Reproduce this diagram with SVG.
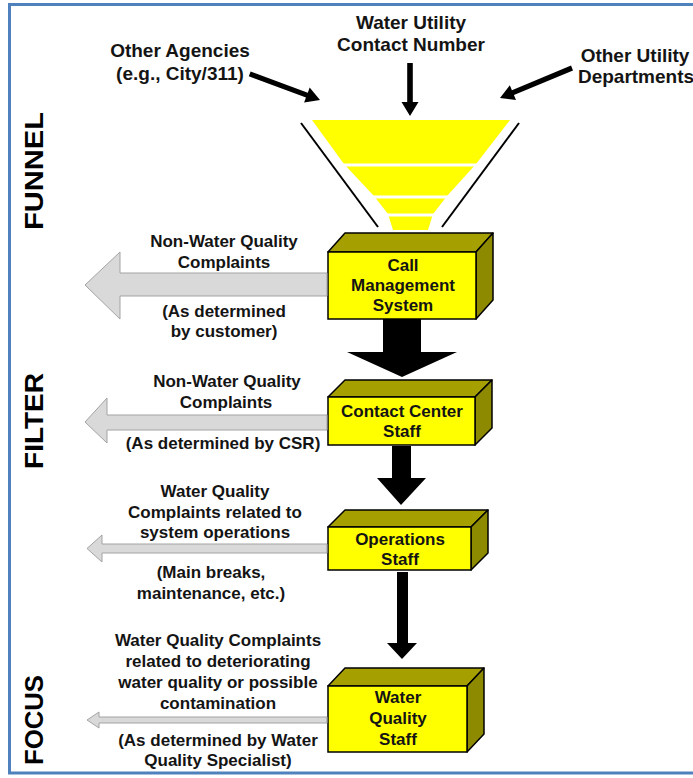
<svg xmlns="http://www.w3.org/2000/svg" width="693" height="778" viewBox="0 0 693 778">
<style>
  text { font-family: "Liberation Sans", Arial, sans-serif; font-weight: bold; fill: #141414; }
  .lbl { font-size: 17px; text-anchor: middle; }
  .top { font-size: 19px; text-anchor: middle; }
  .side { font-size: 26px; text-anchor: middle; fill: #000; }
  .front { fill: #ffff00; stroke: #000; stroke-width: 1.5; }
  .topf { fill: #a59f00; stroke: #000; stroke-width: 1.5; stroke-linejoin: round; }
  .sidef { fill: #8e8a00; stroke: #000; stroke-width: 1.5; stroke-linejoin: round; }
  .blk { fill: #000; }
  .gray { fill: #d9d9d9; stroke: #a3a3a3; stroke-width: 1; }
</style>
<rect x="0" y="0" width="693" height="778" fill="#ffffff"/>
<rect x="9.5" y="4.5" width="720" height="768.5" fill="none" stroke="#4f81bd" stroke-width="3"/>

<g id="section-labels">
  <text class="side" transform="translate(43,171) rotate(-90)" textLength="118" lengthAdjust="spacingAndGlyphs">FUNNEL</text>
  <text class="side" transform="translate(43,421) rotate(-90)" textLength="96" lengthAdjust="spacingAndGlyphs">FILTER</text>
  <text class="side" transform="translate(43,720) rotate(-90)" textLength="90" lengthAdjust="spacingAndGlyphs">FOCUS</text>
</g>

<g id="funnel">
  <path d="M312,120 L510,120 L476,164 L447,196 L433,214 L428,230 L393,230 L388,214 L374,196 L344,164 Z" fill="#ffff00"/>
  <g stroke="#ffffff" stroke-width="3">
    <line x1="300" y1="165" x2="520" y2="165"/>
    <line x1="300" y1="197" x2="520" y2="197"/>
    <line x1="300" y1="215" x2="520" y2="215"/>
  </g>
  <g stroke="#000" stroke-width="2">
    <line x1="301" y1="123" x2="378" y2="227"/>
    <line x1="519" y1="123" x2="442" y2="227"/>
  </g>
</g>

<g id="source-other-agencies">
  <text class="top" x="180" y="57">Other Agencies</text>
  <text class="top" x="180" y="80">(e.g., City/311)</text>
</g>
<g id="source-water-utility">
  <text class="top" x="411" y="29">Water Utility</text>
  <text class="top" x="411" y="51">Contact Number</text>
</g>
<g id="source-other-departments">
  <text class="top" x="635" y="62">Other Utility</text>
  <text class="top" x="636" y="83">Departments</text>
</g>

<g id="node-call-management">
  <polygon class="topf" points="328,252 476,252 493,233 345,233"/>
  <polygon class="sidef" points="476,252 493,233 493,300 476,319"/>
  <rect class="front" x="328" y="252" width="148" height="67"/>
  <text class="lbl" x="403" y="271">Call</text>
  <text class="lbl" x="403" y="291">Management</text>
  <text class="lbl" x="403" y="311">System</text>
</g>

<g id="node-contact-center">
  <polygon class="topf" points="328,397 475,397 492,380 345,380"/>
  <polygon class="sidef" points="475,397 492,380 492,428 475,445"/>
  <rect class="front" x="328" y="397" width="147" height="48"/>
  <text class="lbl" x="402" y="417">Contact Center</text>
  <text class="lbl" x="402" y="437">Staff</text>
</g>

<g id="node-operations">
  <polygon class="topf" points="328,527 471,527 488,510 345,510"/>
  <polygon class="sidef" points="471,527 488,510 488,553 471,570"/>
  <rect class="front" x="328" y="527" width="143" height="43"/>
  <text class="lbl" x="400" y="545">Operations</text>
  <text class="lbl" x="400" y="565">Staff</text>
</g>

<g id="node-water-quality">
  <polygon class="topf" points="328,686 467,686 484,668 345,668"/>
  <polygon class="sidef" points="467,686 484,668 484,734 467,752"/>
  <rect class="front" x="328" y="686" width="139" height="66"/>
  <text class="lbl" x="398" y="703">Water</text>
  <text class="lbl" x="398" y="724">Quality</text>
  <text class="lbl" x="398" y="745">Staff</text>
</g>

<g id="labels">
  <text class="lbl" x="224" y="247">Non-Water Quality</text>
  <text class="lbl" x="224" y="268">Complaints</text>
  <text class="lbl" x="224" y="317">(As determined</text>
  <text class="lbl" x="224" y="337">by customer)</text>

  <text class="lbl" x="227" y="387">Non-Water Quality</text>
  <text class="lbl" x="226" y="408">Complaints</text>
  <text class="lbl" x="223" y="449">(As determined by CSR)</text>

  <text class="lbl" x="215" y="497">Water Quality</text>
  <text class="lbl" x="215" y="518">Complaints related to</text>
  <text class="lbl" x="215" y="538">system operations</text>
  <text class="lbl" x="211" y="578">(Main breaks,</text>
  <text class="lbl" x="211" y="599">maintenance, etc.)</text>

  <text class="lbl" x="218" y="646">Water Quality Complaints</text>
  <text class="lbl" x="218" y="667">related to deteriorating</text>
  <text class="lbl" x="218" y="688">water quality or possible</text>
  <text class="lbl" x="218" y="709">contamination</text>
  <text class="lbl" x="218" y="746">(As determined by Water</text>
  <text class="lbl" x="218" y="766">Quality Specialist)</text>
</g>

<g id="connectors">
  <!-- incoming arrows -->
  <polygon class="blk" transform="translate(320,100) rotate(20.4)" points="-75,-2.6 -14,-2.6 -14,-8 0,0 -14,8 -14,2.6 -75,2.6"/>
  <polygon class="blk" transform="translate(410,116) rotate(90)" points="-53,-2.8 -14,-2.8 -14,-8.5 0,0 -14,8.5 -14,2.8 -53,2.8"/>
  <polygon class="blk" transform="translate(500,98) rotate(157.4)" points="-78,-2.6 -14,-2.6 -14,-8 0,0 -14,8 -14,2.6 -78,2.6"/>
  <!-- downward flow arrows -->
  <polygon class="blk" points="383,319 421,319 421,352 457,352 402,377 347,352 383,352"/>
  <polygon class="blk" points="392,446 411,446 411,478 426,478 401,505 377,478 392,478"/>
  <polygon class="blk" points="397,572 408,572 408,643 417,643 402,659 387,643 397,643"/>
  <!-- outgoing gray arrows -->
  <polygon class="gray" points="327,273 120,273 120,252 85,285 120,319 120,296 327,296"/>
  <polygon class="gray" points="327,415 107,415 107,398 85,422 107,443 107,430 327,430"/>
  <polygon class="gray" points="327,544 102,544 102,535 87,548.5 102,562 102,553 327,553"/>
  <polygon class="gray" points="327,717 99,717 99,712 87,720 99,728 99,723 327,723"/>
</g>
</svg>
